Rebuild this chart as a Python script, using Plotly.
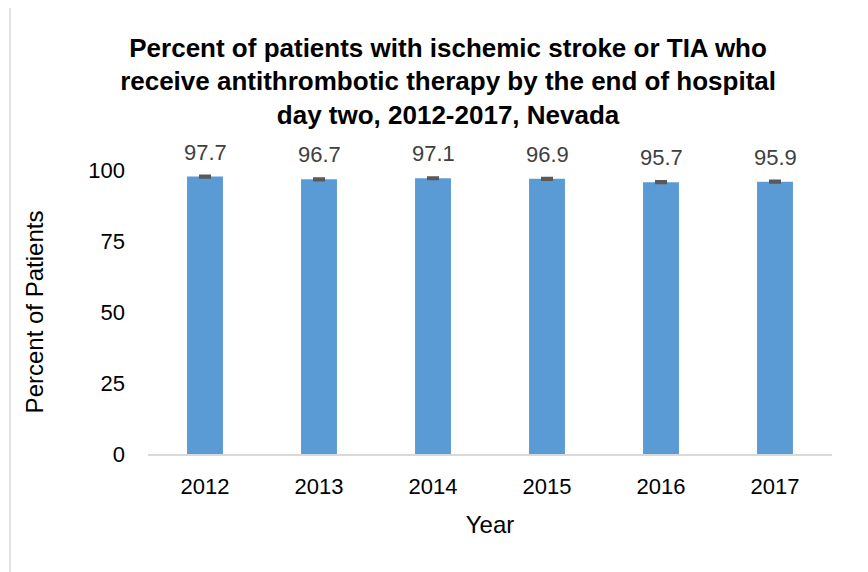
import plotly.graph_objects as go

years = ["2012", "2013", "2014", "2015", "2016", "2017"]
percent = [97.7, 96.7, 97.1, 96.9, 95.7, 95.9]
err = [0.3, 0.3, 0.3, 0.3, 0.3, 0.3]
y_ticks = [0, 25, 50, 75, 100]

font_name = "Liberation Sans Narrow, Arial Narrow, Liberation Sans, Arial"

fig = go.Figure()

fig.add_trace(go.Bar(
    x=years,
    y=percent,
    marker=dict(color='#5b9bd5', line=dict(width=0)),
    error_y=dict(type='data', array=err, visible=True,
                 color='#595959', thickness=2.5, width=6),
    showlegend=False
))

# etiquetas de valor sobre las barras (x = posicion de la categoria)
for i, v in enumerate(percent):
    fig.add_annotation(
        x=i, y=v, text=f"{v:.1f}",
        showarrow=False, yanchor='bottom', yshift=10,
        font=dict(family=font_name, size=22, color='#404040')
    )

# marco exterior del grafico
fig.add_shape(type='rect', xref='paper', yref='paper',
              x0=-0.2018, x1=1.0439, y0=-0.46, y1=1.581,
              line=dict(color='#d9d9d9', width=1.5), layer='below')

fig.update_layout(
    title=dict(
        text="Percent of patients with ischemic stroke or TIA who<br>"
             "receive antithrombotic therapy by the end of hospital<br>"
             "day two, 2012-2017, Nevada",
        x=0.507, xanchor='center', xref='container',
        y=0.915, yanchor='top', yref='container',
        font=dict(family=font_name, size=26, color='black', weight='bold')
    ),
    xaxis=dict(
        type='category',
        categoryorder='array', categoryarray=years,
        range=[-0.5, len(years) - 0.5],
        title=dict(text="Year", standoff=18,
                   font=dict(family=font_name, size=24, color='black')),
        tickfont=dict(family=font_name, size=22, color='black'),
        showline=True, linecolor='#d9d9d9', linewidth=2,
        showgrid=False, ticks='', ticklabelstandoff=12
    ),
    yaxis=dict(
        title=dict(text="Percent of Patients", standoff=37,
                   font=dict(family=font_name, size=24, color='black')),
        tickfont=dict(family=font_name, size=22, color='black'),
        range=[0, 100], tickvals=y_ticks,
        showgrid=False, zeroline=False, showline=False,
        ticks='', ticklabelstandoff=22
    ),
    bargap=0.685,
    width=868, height=572,
    margin=dict(l=140, r=44, t=162, b=126),
    plot_bgcolor='white',
    paper_bgcolor='white'
)

fig.update_traces(cliponaxis=False)

fig.write_html("out.html")
